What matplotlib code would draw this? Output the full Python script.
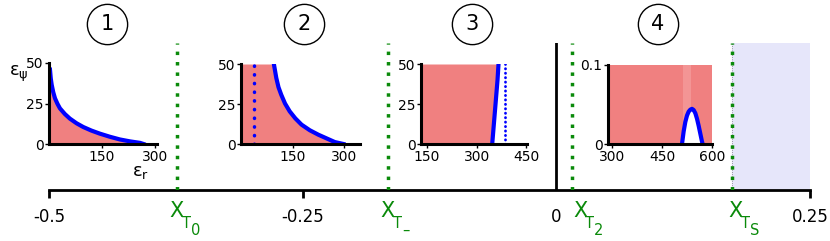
import matplotlib
matplotlib.use("Agg")
import matplotlib.pyplot as plt
from matplotlib.transforms import blended_transform_factory, offset_copy

# ---------------- data ----------------
main_ticks = [-0.5, -0.25, 0, 0.25]
main_ticklabels = ["-0.5", "-0.25", "0", "0.25"]
threshold_pos = [-0.374, -0.166, 0.0157, 0.173]
threshold_index = ["0", "–", "2", "S"]
label_shift_px = [0, 0, 8, 4]
region_pos = [-0.443, -0.249, -0.083, 0.100]
region_labels = ["1", "2", "3", "4"]

# inset 1
r1_x = [2.8, 5, 7.6, 12, 17, 24, 31, 45, 59, 78, 97, 120, 144, 172, 201, 230, 258, 268]
r1_y = [45.9, 40.5, 36.6, 32, 28.2, 24.8, 22, 18.5, 15.7, 12.8, 10.5, 8.3, 6.4, 4.5, 2.8, 1.6, 0.7, 0]
# inset 2
r2_x = [95.6, 102.6, 109, 117, 128, 141.6, 158, 176, 200, 225, 250, 273, 298]
r2_y = [50, 41.3, 35.5, 30.8, 25.3, 20.4, 16, 12.1, 8.6, 5.8, 3.4, 1.2, 0]
r2_dot = 39
# inset 3
r3_x = [347, 351, 355, 359, 363, 366]
r3_y = [0, 10, 20, 30, 40, 50]
r3_dot = 387
# inset 4
r4_x = [510, 515, 520, 525, 530, 535, 540, 545, 550, 555, 560, 565, 570, 572]
r4_y = [0, 0.016, 0.028, 0.036, 0.041, 0.0435, 0.0445, 0.043, 0.039, 0.032, 0.023, 0.013, 0.003, 0]

GREEN = "#0a8a0a"
RED = "#f08080"

W, H = 830, 241
fig = plt.figure(figsize=(W / 100, H / 100), dpi=100)


def rect(x0, y0, x1, y1):
    return [x0 / W, 1 - y1 / H, (x1 - x0) / W, (y1 - y0) / H]


# ---------------- main axis ----------------
ax = fig.add_axes(rect(49, 43, 810, 190))
ax.set_xlim(-0.5, 0.25)
ax.set_ylim(0, 1)
for s in ["left", "right", "top"]:
    ax.spines[s].set_visible(False)
ax.spines["bottom"].set_linewidth(2.0)
ax.set_yticks([])
ax.set_xticks(main_ticks)
ax.set_xticklabels(main_ticklabels, fontsize=12)
ax.tick_params(axis="x", length=6, width=2, direction="out", pad=7)
ax.xaxis.get_major_ticks()[2].tick1line.set_visible(False)
ax.patch.set_alpha(0)

ax.axvspan(threshold_pos[3], main_ticks[-1], color="lavender", zorder=0)
ax.axvline(threshold_pos[3], color="gray", lw=0.6, ls=":", zorder=1)
ax.axvline(0, color="black", lw=2, zorder=2)
for v in threshold_pos:
    ax.axvline(v, color=GREEN, lw=2.5, ls=(0, (1, 2)), zorder=3)

trb = blended_transform_factory(ax.transData, fig.transFigure)
base_y = 1 - 217 / H
for v, idx, sh in zip(threshold_pos, threshold_index, label_shift_px):
    ax.text(v, base_y, "X", transform=offset_copy(trb, fig=fig, x=sh, y=0, units="dots"),
            ha="center", va="baseline", color=GREEN, fontsize=15, clip_on=False)
    ax.text(v, base_y, "T", transform=offset_copy(trb, fig=fig, x=5 + sh, y=-11, units="dots"),
            ha="left", va="baseline", color=GREEN, fontsize=10.5, clip_on=False)
    ax.text(v, base_y, idx, transform=offset_copy(trb, fig=fig, x=14 + sh, y=-18, units="dots"),
            ha="left", va="baseline", color=GREEN, fontsize=10.5, clip_on=False)

for v, lab in zip(region_pos, region_labels):
    ax.plot([v], [1 - 24 / H], marker="o", ms=29, mfc="white", mec="black",
            mew=1, transform=trb, clip_on=False)
    ax.text(v, 1 - 24 / H, lab, transform=trb, ha="center", va="center",
            fontsize=15, clip_on=False)


def style_inset(a, xlim, ylim, xt, yt, ytl=None):
    a.set_xlim(*xlim)
    a.set_ylim(*ylim)
    for s in ["right", "top"]:
        a.spines[s].set_visible(False)
    for s in ["left", "bottom"]:
        a.spines[s].set_linewidth(2.2)
    a.set_xticks(xt)
    a.set_yticks(yt)
    if ytl is not None:
        a.set_yticklabels(ytl)
    a.tick_params(labelsize=10, length=3, width=1, pad=1)
    a.patch.set_alpha(0)


# inset 1
a1 = fig.add_axes(rect(49, 63, 157, 144))
a1.fill_between(r1_x, 0, r1_y, color=RED, lw=0)
a1.plot(r1_x, r1_y, color="blue", lw=3)
style_inset(a1, (0, 306), (0, 50), [150, 300], [0, 25, 50])
a1.text(-0.19, 0.86, r"$\mathregular{ε_ψ}$", transform=a1.transAxes,
        ha="right", va="center", fontsize=13)
a1.text(0.85, -0.35, r"$\mathregular{ε_r}$", transform=a1.transAxes,
        ha="center", va="center", fontsize=13)

# inset 2
a2 = fig.add_axes(rect(241, 64, 360, 144))
a2.fill_betweenx(r2_y, 0, r2_x, color=RED, lw=0)
a2.plot(r2_x, r2_y, color="blue", lw=3)
a2.plot([r2_dot, r2_dot], [0, 50], color="blue", lw=2.5,
        ls=(0, (0.1, 2.4)), dash_capstyle="round")
style_inset(a2, (0, 346), (0, 50), [150, 300], [0, 25, 50])

# inset 3
a3 = fig.add_axes(rect(421, 64, 527, 144))
a3.fill_betweenx(r3_y, 132, r3_x, color=RED, lw=0)
a3.plot(r3_x, r3_y, color="blue", lw=3)
a3.plot([r3_dot, r3_dot], [0, 50], color="blue", lw=2,
        ls=(0, (0.1, 1.5)), dash_capstyle="round")
style_inset(a3, (132, 452), (0, 50), [150, 300, 450], [0, 25, 50])

# inset 4
a4 = fig.add_axes(rect(608, 65, 712, 144))
a4.fill_between([288, 600], 0, 0.1, color=RED, lw=0)
a4.axvspan(513, 536, color="#f39595", lw=0)
a4.fill_between(r4_x, 0, r4_y, color="white", lw=0)
a4.plot(r4_x, r4_y, color="blue", lw=3)
style_inset(a4, (288, 600), (0, 0.1), [300, 450, 600], [0, 0.1], ["0", "0.1"])

fig.savefig("out.png", dpi=100)
